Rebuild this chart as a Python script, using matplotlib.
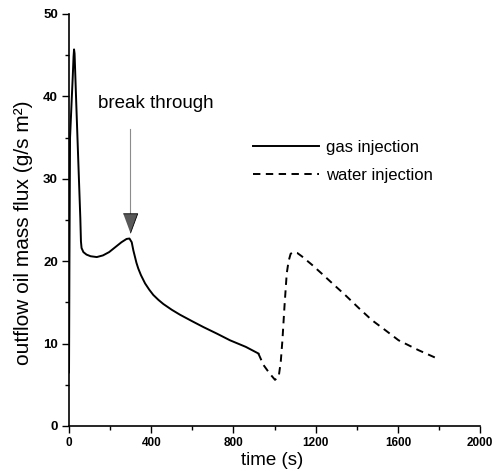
import matplotlib
matplotlib.use("Agg")
from matplotlib import pyplot as plt
from matplotlib.ticker import MultipleLocator

plt.rcParams['font.family'] = ['Liberation Sans', 'DejaVu Sans']

# gas injection (solid)
gas_t = [0, 2, 4, 5, 12, 18, 22, 24.5, 27, 35, 45, 55, 58, 61, 70, 85, 105, 135,
         165, 195, 225, 255, 280, 294, 305, 313, 320, 328, 337, 350, 370, 390, 410,
         435, 459, 500, 540, 600, 654, 720, 783, 860, 921]
gas_flux = [6.5, 20, 30, 35, 39, 42.3, 44.8, 45.7, 45.2, 39.3, 32.2, 25.2, 22.4, 21.6,
            21.1, 20.8, 20.6, 20.5, 20.7, 21.1, 21.7, 22.3, 22.7, 22.75, 22.3, 21.3,
            20.6, 19.8, 19.1, 18.3, 17.3, 16.55, 15.9, 15.3, 14.8, 14.1, 13.5, 12.7,
            12.0, 11.2, 10.4, 9.6, 8.8]

# water injection (dashed)
water_t = [921, 946, 975, 1002, 1020, 1030, 1038, 1048, 1059, 1068, 1078, 1092, 1110,
           1132, 1180, 1229, 1290, 1343, 1410, 1473, 1540, 1603, 1700, 1790]
water_flux = [8.8, 7.4, 6.4, 5.6, 6.0, 7.8, 10.4, 14.5, 18.5, 20.0, 20.9, 21.1, 21.0,
              20.6, 19.6, 18.5, 17.1, 15.9, 14.3, 12.85, 11.6, 10.4, 9.2, 8.2]

fig = plt.figure(figsize=(4.93, 4.74), dpi=100)
ax = fig.add_axes([0.140, 0.1013, 0.834, 0.8692])

ax.plot(gas_t, gas_flux, color='black', lw=1.4, label='gas injection')
ax.plot(water_t, water_flux, color='black', lw=1.4, ls=(0, (3.8, 2.8)),
        label='water injection')

# break through arrow
ax.plot([297, 297], [25.8, 36.1], color='0.55', lw=0.8)
ax.plot(297, 24.6, marker=[(-0.37, 0.5), (0.37, 0.5), (0, -0.5)], ms=14,
        color='0.35', mec='black', mew=0.6)
ax.text(420, 39.1, 'break through', fontsize=13.5, ha='center', va='center')

ax.legend(loc='upper left', bbox_to_anchor=(0.448, 0.695), frameon=False,
          fontsize=12, handlelength=3.96, handletextpad=0.42, labelspacing=0.8,
          borderpad=0, borderaxespad=0)

ax.set_xlim(0, 2000)
ax.set_ylim(0, 50)
ax.xaxis.set_major_locator(MultipleLocator(400))
ax.xaxis.set_minor_locator(MultipleLocator(200))
ax.yaxis.set_major_locator(MultipleLocator(10))
ax.yaxis.set_minor_locator(MultipleLocator(5))

ax.spines['top'].set_visible(False)
ax.spines['right'].set_visible(False)
for s in ['left', 'bottom']:
    ax.spines[s].set_linewidth(1.2)
ax.tick_params(which='major', direction='out', length=5, width=1.0, pad=3)
ax.tick_params(which='minor', direction='out', length=3, width=1.0)
ax.tick_params(axis='x', labelsize=8.5)
ax.tick_params(axis='y', labelsize=9.5)
for lab in ax.get_xticklabels() + ax.get_yticklabels():
    lab.set_fontweight('bold')

ax.set_xlabel('time (s)', fontsize=13.5)
ax.set_ylabel('outflow oil mass flux (g/s m²)', fontsize=15)
ax.xaxis.set_label_coords(0.494, -0.063)
ax.yaxis.set_label_coords(-0.087, 0.468)

fig.savefig('out.png', dpi=100)
